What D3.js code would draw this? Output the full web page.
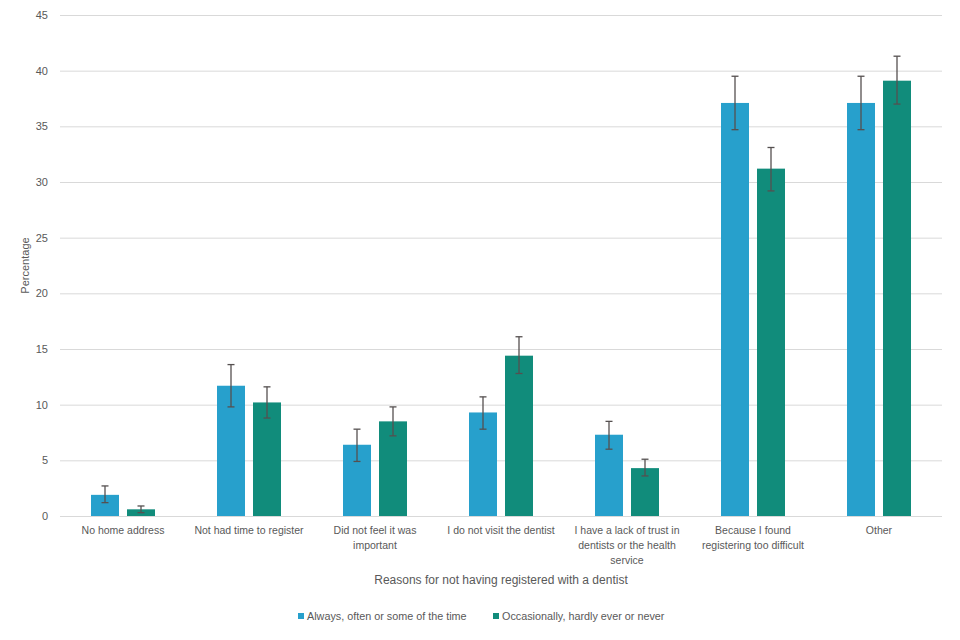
<!DOCTYPE html>
<html>
<head>
<meta charset="utf-8">
<script src="https://cdn.jsdelivr.net/npm/d3@7"></script>
<style>
  body { margin: 0; background: #fff; }
  svg text { font-family: 'Liberation Sans Narrow', 'Arial Narrow', 'Liberation Sans', sans-serif; fill: #595959; }
</style>
</head>
<body>
<div id="chart"></div>
<script>
// categories (line breaks as in the picture)
const categories = [
  ['No home address'],
  ['Not had time to register'],
  ['Did not feel it was', 'important'],
  ['I do not visit the dentist'],
  ['I have a lack of trust in', 'dentists or the health', 'service'],
  ['Because I found', 'registering too difficult'],
  ['Other']
];
const seriesNames = ['Always, often or some of the time', 'Occasionally, hardly ever or never'];

// values and confidence intervals
const alwaysValues = [1.9, 11.7, 6.4, 9.3, 7.3, 37.1, 37.1];
const alwaysLow    = [1.2, 9.8, 4.9, 7.8, 6.0, 34.7, 34.7];
const alwaysHigh   = [2.7, 13.6, 7.8, 10.7, 8.5, 39.5, 39.5];
const neverValues  = [0.6, 10.2, 8.5, 14.4, 4.3, 31.2, 39.1];
const neverLow     = [0.3, 8.8, 7.2, 12.8, 3.6, 29.2, 37.0];
const neverHigh    = [0.9, 11.6, 9.8, 16.1, 5.1, 33.1, 41.3];

const yTicks = [0, 5, 10, 15, 20, 25, 30, 35, 40, 45];
const colors = ['#27a0cc', '#118c7b'];

const width = 960, height = 640;
const margin = { top: 15, right: 18, bottom: 124, left: 60 };

const svg = d3.select('#chart').append('svg')
  .attr('width', width).attr('height', height);

const x0 = d3.scaleBand()
  .domain(d3.range(categories.length))
  .range([margin.left, width - margin.right])
  .paddingInner(0).paddingOuter(0);

const x1 = d3.scaleBand()
  .domain([0, 1])
  .range([31, x0.bandwidth() - 31])
  .paddingInner(8 / 36);

const y = d3.scaleLinear()
  .domain([0, 45])
  .range([height - margin.bottom, margin.top]);

// gridlines
svg.append('g')
  .attr('transform', `translate(${margin.left},0)`)
  .call(d3.axisLeft(y).tickValues(yTicks).tickSize(-(width - margin.left - margin.right)).tickFormat(''))
  .call(g => g.select('.domain').remove())
  .call(g => g.selectAll('line').attr('stroke', '#d9d9d9').attr('stroke-width', 1));

// y tick labels
svg.append('g')
  .attr('transform', `translate(${margin.left},0)`)
  .call(d3.axisLeft(y).tickValues(yTicks).tickSize(0).tickPadding(12))
  .call(g => g.select('.domain').remove())
  .call(g => g.selectAll('text').style('font-size', '11px'));

const series = [
  { vals: alwaysValues, lo: alwaysLow, hi: alwaysHigh },
  { vals: neverValues, lo: neverLow, hi: neverHigh }
];

const groups = svg.append('g').selectAll('g')
  .data(categories)
  .join('g')
  .attr('transform', (d, i) => `translate(${x0(i)},0)`);

series.forEach((s, si) => {
  groups.append('rect')
    .attr('x', x1(si))
    .attr('width', x1.bandwidth())
    .attr('y', (d, i) => y(s.vals[i]))
    .attr('height', (d, i) => y(0) - y(s.vals[i]))
    .attr('fill', colors[si]);
});

// error bars
series.forEach((s, si) => {
  const cx = x1(si) + x1.bandwidth() / 2;
  const eb = groups.append('g').attr('stroke', '#555050').attr('stroke-width', 1.3);
  eb.append('line')
    .attr('x1', cx).attr('x2', cx)
    .attr('y1', (d, i) => y(s.lo[i])).attr('y2', (d, i) => y(s.hi[i]));
  eb.append('line')
    .attr('x1', cx - 3.5).attr('x2', cx + 3.5)
    .attr('y1', (d, i) => y(s.hi[i])).attr('y2', (d, i) => y(s.hi[i]));
  eb.append('line')
    .attr('x1', cx - 3.5).attr('x2', cx + 3.5)
    .attr('y1', (d, i) => y(s.lo[i])).attr('y2', (d, i) => y(s.lo[i]));
});

// category labels
groups.append('text')
  .attr('text-anchor', 'middle')
  .style('font-size', '10.5px')
  .selectAll('tspan')
  .data(d => d)
  .join('tspan')
  .attr('x', x0.bandwidth() / 2)
  .attr('y', (d, i) => y(0) + 18 + i * 15)
  .text(d => d);

// axis titles
svg.append('text')
  .attr('x', (margin.left + width - margin.right) / 2)
  .attr('y', 584)
  .attr('text-anchor', 'middle')
  .style('font-size', '12px')
  .text('Reasons for not having registered with a dentist');

svg.append('text')
  .attr('transform', `translate(29,${(margin.top + y(0)) / 2}) rotate(-90)`)
  .attr('text-anchor', 'middle')
  .style('font-size', '11px')
  .text('Percentage');

// legend
const legendX = [298, 493];
const legend = svg.append('g').selectAll('g')
  .data(seriesNames)
  .join('g')
  .attr('transform', (d, i) => `translate(${legendX[i]},620)`);
legend.append('rect')
  .attr('x', 0).attr('y', -7).attr('width', 6).attr('height', 6)
  .attr('fill', (d, i) => colors[i]);
legend.append('text')
  .attr('x', 9).attr('y', 0)
  .style('font-size', '10.8px')
  .text(d => d);
</script>
</body>
</html>
